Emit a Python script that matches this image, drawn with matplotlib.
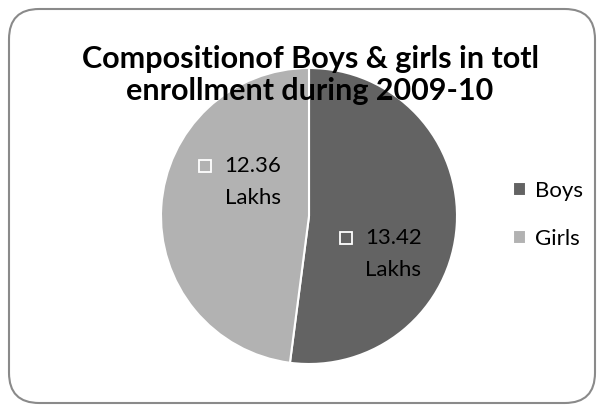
import matplotlib.pyplot as plt
from matplotlib.patches import FancyBboxPatch

labels = ['Boys', 'Girls']
values = [13.42, 12.36]
colors = ['#636363', '#b2b2b2']
title = 'Compositionof Boys & girls in totl\nenrollment during 2009-10'

plt.rcParams['font.family'] = ['Lato', 'DejaVu Sans']

W, H = 604, 412
fig = plt.figure(figsize=(W / 100, H / 100), dpi=100)

# rounded chart frame
frame = FancyBboxPatch((9 / W, 9 / H), 586 / W, 394 / H,
                       boxstyle='round,pad=0,rounding_size=0.05',
                       transform=fig.transFigure, facecolor='white',
                       edgecolor='#8a8a8a', linewidth=1.5, mutation_aspect=W / H,
                       zorder=-10)
fig.patches.append(frame)

cx, cy, r = 309, 216, 148
ax = fig.add_axes([(cx - r) / W, 1 - (cy + r) / H, 2 * r / W, 2 * r / H])
ax.patch.set_visible(False)
wedges, _ = ax.pie(values, colors=colors, startangle=90, counterclock=False,
                   radius=1, wedgeprops=dict(edgecolor='white', linewidth=1.5))
ax.set_xlim(-1, 1)
ax.set_ylim(-1, 1)
ax.set_aspect('equal')
ax.axis('off')

# data labels
label_pos = {'Boys': (0.38, -0.26), 'Girls': (-0.57, 0.23)}
for lab, v in zip(labels, values):
    x, y = label_pos[lab]
    ax.text(x, y, f'{v:.2f}\nLakhs', fontsize=16, ha='left', va='center',
            linespacing=1.75, color='black')
    ax.plot(x - 0.13, y + 0.11, marker='s', markersize=9, mfc='none',
            mec='white', mew=1.3)

fig.text(310 / W, 1 - 75 / H, title, ha='center', va='center',
         fontsize=22, fontweight='bold', linespacing=1.15)

leg = fig.legend(wedges, labels, loc='center left',
                 bbox_to_anchor=(493 / W, 1 - 215 / H), frameon=False,
                 fontsize=16, handlelength=0.6, handleheight=0.6,
                 handletextpad=0.4, labelspacing=1.25)

fig.savefig('out.png', dpi=100)
